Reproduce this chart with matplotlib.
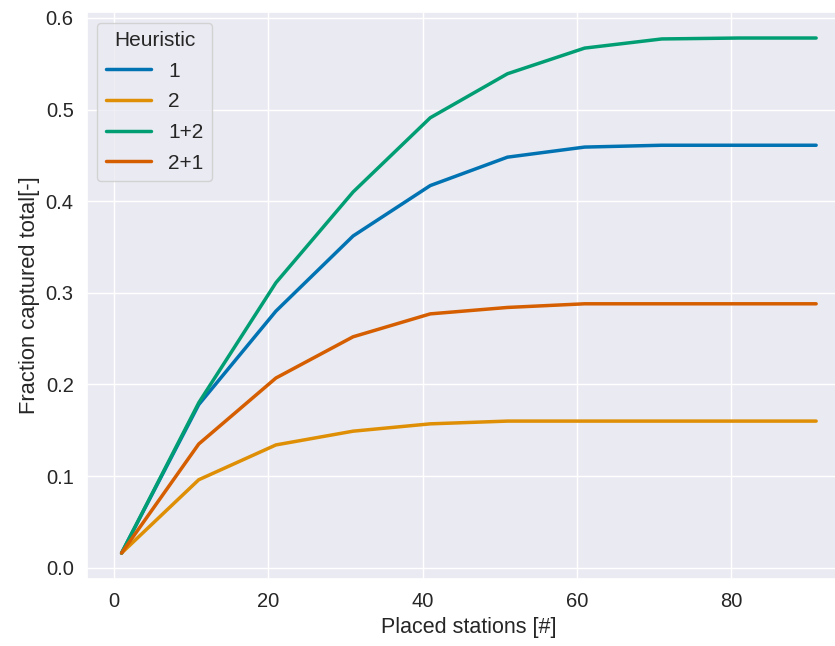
import matplotlib
matplotlib.use('Agg')
import matplotlib.pyplot as plt
import seaborn as sns

stations = [1, 11, 21, 31, 41, 51, 61, 71, 81, 91]
heur_1 = [0.016, 0.178, 0.280, 0.362, 0.417, 0.448, 0.459, 0.461, 0.461, 0.461]
heur_2 = [0.016, 0.096, 0.134, 0.149, 0.157, 0.160, 0.160, 0.160, 0.160, 0.160]
heur_12 = [0.016, 0.180, 0.311, 0.410, 0.491, 0.539, 0.567, 0.577, 0.578, 0.578]
heur_21 = [0.016, 0.135, 0.207, 0.252, 0.277, 0.284, 0.288, 0.288, 0.288, 0.288]
labels = ['1', '2', '1+2', '2+1']

sns.set_theme(style='darkgrid', palette='colorblind', font_scale=1.25)
plt.rcParams['font.family'] = ['Liberation Sans', 'DejaVu Sans']
colors = sns.color_palette('colorblind')

fig, ax = plt.subplots(figsize=(8.35, 6.46), dpi=100)
# the axes run a little past the right edge of the canvas
fig.subplots_adjust(left=0.104, right=1.019, top=0.981, bottom=0.104)

for series, lab, c in zip([heur_1, heur_2, heur_12, heur_21], labels, colors):
    ax.plot(stations, series, label=lab, color=c, linewidth=2.5)

ax.tick_params(labelsize=14.5)
ax.set_xlabel('Placed stations [#]', fontsize=15.5)
ax.set_ylabel('Fraction captured total[-]', fontsize=15.8)
ax.legend(title='Heuristic', loc='upper left', fontsize=15, title_fontsize=15,
          handlelength=2.2, labelspacing=0.56)

fig.savefig('out.png')
